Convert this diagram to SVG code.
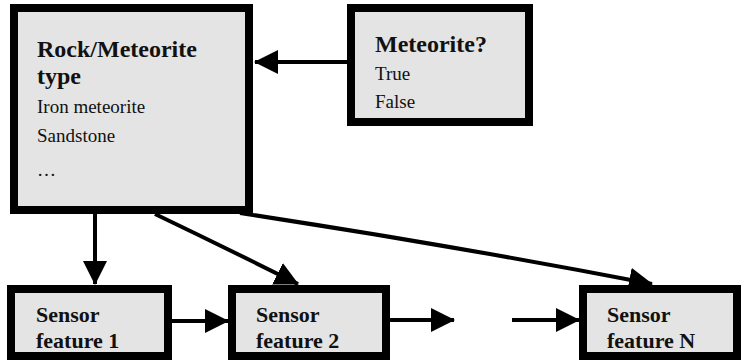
<svg xmlns="http://www.w3.org/2000/svg" width="743" height="362" viewBox="0 0 743 362">
<style>
.box{fill:#e4e4e4;stroke:#000;stroke-width:8}
.title{font-family:"Liberation Serif",serif;font-weight:bold;font-size:24px;fill:#111}
.item{font-family:"Liberation Serif",serif;font-size:19px;fill:#111}
.sens{font-family:"Liberation Serif",serif;font-weight:bold;font-size:22px;fill:#111}
.conn{fill:none;stroke:#000;stroke-width:4}
</style>
<defs>
<marker id="ah" markerUnits="userSpaceOnUse" viewBox="0 0 24 24" refX="23" refY="12" markerWidth="24" markerHeight="24" orient="auto">
<path d="M0,0 L24,12 L0,24 z" fill="#000"/>
</marker>
</defs>
<rect width="743" height="362" fill="#fff"/>
<g id="connectors">
<line class="conn" x1="347" y1="62" x2="255" y2="62" marker-end="url(#ah)"/>
<line class="conn" x1="95" y1="214" x2="95" y2="284" marker-end="url(#ah)"/>
<path class="conn" d="M155,214 Q230,250 298,284" marker-end="url(#ah)"/>
<path class="conn" d="M240,213 Q450,245 652,284" marker-end="url(#ah)"/>
<line class="conn" x1="172" y1="321" x2="228" y2="321" marker-end="url(#ah)"/>
<line class="conn" x1="390" y1="320" x2="454" y2="320" marker-end="url(#ah)"/>
<line class="conn" x1="512" y1="320" x2="579" y2="320" marker-end="url(#ah)"/>
</g>
<g id="rock">
<rect class="box" x="14" y="8" width="235" height="202"/>
<text class="title" x="37" y="57">Rock/Meteorite</text>
<text class="title" x="37" y="84">type</text>
<text class="item" x="37" y="113">Iron meteorite</text>
<text class="item" x="37" y="142">Sandstone</text>
<text class="item" x="37" y="176">…</text>
</g>
<g id="meteorite">
<rect class="box" x="351" y="8" width="178" height="114"/>
<text class="title" x="375" y="52">Meteorite?</text>
<text class="item" x="375" y="80">True</text>
<text class="item" x="375" y="108">False</text>
</g>
<g id="sensor1">
<rect class="box" x="11" y="289" width="157" height="67"/>
<text class="sens" x="36" y="322">Sensor</text>
<text class="sens" x="36" y="348">feature 1</text>
</g>
<g id="sensor2">
<rect class="box" x="232" y="289" width="154" height="67"/>
<text class="sens" x="256" y="322">Sensor</text>
<text class="sens" x="256" y="348">feature 2</text>
</g>
<g id="sensorN">
<rect class="box" x="583" y="289" width="154" height="67"/>
<text class="sens" x="607" y="322">Sensor</text>
<text class="sens" x="607" y="348">feature N</text>
</g>
</svg>
